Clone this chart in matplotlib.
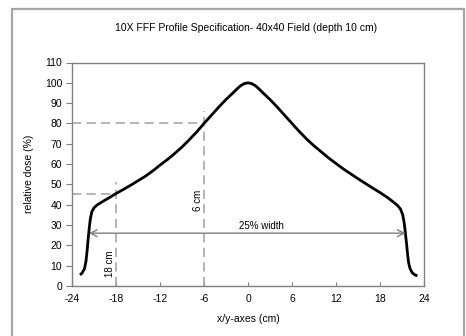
import matplotlib
matplotlib.use('Agg')
import matplotlib.pyplot as plt
from matplotlib.patches import Rectangle

plt.rcParams['font.family'] = ['Liberation Sans', 'DejaVu Sans']
plt.rcParams['axes.unicode_minus'] = False

# Profile (x in cm, relative dose in %)
x_pos = [-22.9, -22.6, -22.3, -22.1, -21.95, -21.8, -21.65, -21.5, -21.3, -21.0,
         -20.6, -20.0, -19.0, -18.0, -17.0, -16.0, -15.0, -14.0, -13.0, -12.0,
         -11.0, -10.0, -9.0, -8.0, -7.0, -6.0, -5.0, -4.0, -3.0, -2.0,
         -1.5, -1.0, -0.5, 0.0, 0.5, 1.0, 1.5, 2.0, 3.0, 4.0,
         5.0, 6.0, 7.0, 8.0, 9.0, 10.0, 11.0, 12.0, 13.0, 14.0,
         15.0, 16.0, 17.0, 18.0, 19.0, 19.8, 20.4, 20.8, 21.1, 21.3,
         21.45, 21.6, 21.75, 21.9, 22.1, 22.4, 22.8, 23.1]
dose = [5.4, 6.5, 8.5, 12.0, 17.0, 23.0, 28.5, 33.0, 36.5, 38.5,
        39.8, 41.2, 43.3, 45.5, 47.5, 49.6, 51.8, 54.0, 56.6, 59.5,
        62.2, 65.2, 68.4, 72.0, 75.8, 80.0, 84.0, 88.0, 91.8, 95.2,
        97.0, 98.6, 99.6, 100.0, 99.6, 98.6, 97.0, 95.2, 91.8, 88.0,
        84.0, 80.0, 76.0, 72.3, 69.0, 66.0, 63.0, 60.3, 57.6, 55.2,
        52.8, 50.5, 48.2, 46.0, 43.6, 41.4, 39.6, 37.8, 35.0, 31.0,
        26.5, 21.5, 16.0, 11.5, 8.5, 6.5, 5.4, 5.0]

x_ticks = [-24, -18, -12, -6, 0, 6, 12, 18, 24]
y_ticks = [0, 10, 20, 30, 40, 50, 60, 70, 80, 90, 100, 110]

# Guide lines: (x, y) where dashed lines meet the curve, and how high the verticals go
guide_x = [-18, -6]
guide_y = [45.5, 80]
guide_top = [51, 86]
guide_labels = ['18 cm', '6 cm']
width_left, width_right, width_level = -21.7, 21.5, 26

fig = plt.figure(figsize=(4.66, 3.36), dpi=100)
fig.patch.set_facecolor('white')

# Outer chart-area border
fig.patches.append(Rectangle((12 / 466, -0.05), 452 / 466, 1.05 - 9 / 336,
                             transform=fig.transFigure, fill=False,
                             edgecolor='#a6a6a6', linewidth=1.6))

ax = fig.add_axes([72 / 466, 1 - 286 / 336, 352 / 466, 223.5 / 336])

# Dashed guides
for gx, gy, gt in zip(guide_x, guide_y, guide_top):
    ax.plot([-24, gx], [gy, gy], color='#a0a0a0', lw=1.1, dashes=(6, 3.5))
    ax.plot([gx, gx], [0, gt], color='#a0a0a0', lw=1.1, dashes=(6, 3.5))

ax.text(-18.85, 10.8, guide_labels[0], rotation=90, ha='center', va='center', fontsize=7)
ax.text(-6.8, 42, guide_labels[1], rotation=90, ha='center', va='center', fontsize=7)

# 25% width arrow
ax.annotate('', xy=(width_left, width_level), xytext=(width_right, width_level),
            arrowprops=dict(arrowstyle='<->', color='#7f7f7f', lw=1.0,
                            mutation_scale=12, shrinkA=0, shrinkB=0))
ax.text(1.9, 29.5, '25% width', ha='center', va='center', fontsize=7)

ax.plot(x_pos, dose, color='black', lw=2.0, solid_capstyle='butt')

ax.set_xlim(-24, 24)
ax.set_ylim(0, 110)
ax.set_xticks(x_ticks)
ax.set_yticks(y_ticks)
ax.tick_params(axis='x', direction='in', length=3, color='#808080', labelsize=7.5, pad=6)
ax.tick_params(axis='y', direction='out', length=4, color='#808080', labelsize=7.5, pad=3)
for s in ax.spines.values():
    s.set_color('#808080')
    s.set_linewidth(1.0)

ax.set_xlabel('x/y-axes (cm)', fontsize=7.5, labelpad=7)
ax.set_ylabel('relative dose (%)', fontsize=7.5, labelpad=8)
fig.text(246 / 466, 1 - 28 / 336, '10X FFF Profile Specification- 40x40 Field (depth 10 cm)',
         ha='center', va='center', fontsize=7.5)

fig.savefig('out.png', dpi=100)
